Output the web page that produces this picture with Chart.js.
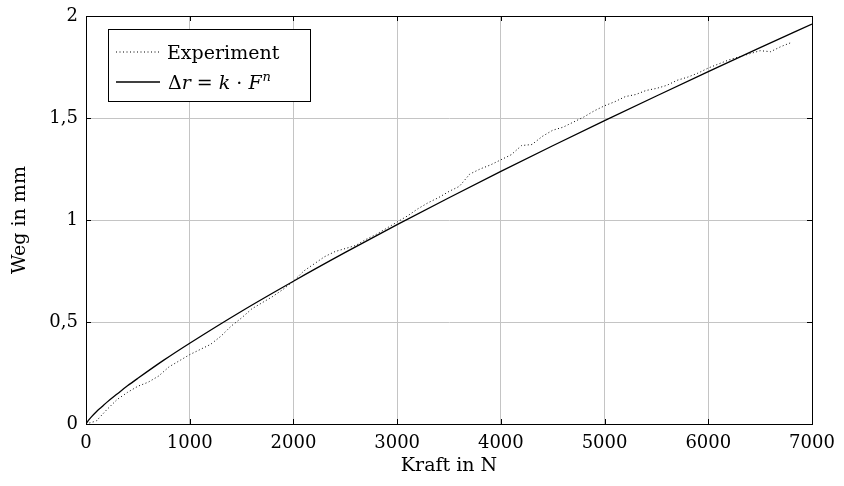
<!DOCTYPE html>
<html>
<head>
<meta charset="utf-8">
<script src="https://cdn.jsdelivr.net/npm/chart.js@4.4.1/dist/chart.umd.min.js"></script>
<style>
  html, body { margin: 0; padding: 0; background: #ffffff; }
  #wrap { width: 844px; height: 486px; }
</style>
</head>
<body>
<div id="wrap"><canvas id="c" width="844" height="486"></canvas></div>
<script>
// ---- data ----
const expForce = [0,100,200,300,400,500,600,700,800,900,1000,1100,1200,1300,1400,1500,1600,1700,1800,1900,2000,2100,2200,2300,2400,2500,2600,2700,2800,2900,3000,3100,3200,3300,3400,3500,3600,3700,3800,3900,4000,4100,4200,4300,4400,4500,4600,4700,4800,4900,5000,5100,5200,5300,5400,5500,5600,5700,5800,5900,6000,6100,6200,6300,6400,6500,6600,6700,6800];
const expDisp  = [0,0.015,0.07,0.12,0.155,0.185,0.205,0.235,0.28,0.31,0.34,0.365,0.39,0.43,0.48,0.52,0.565,0.595,0.625,0.66,0.70,0.75,0.785,0.82,0.845,0.86,0.875,0.905,0.93,0.96,0.99,1.02,1.055,1.085,1.11,1.14,1.165,1.225,1.25,1.27,1.295,1.32,1.365,1.37,1.41,1.44,1.455,1.48,1.505,1.535,1.56,1.58,1.605,1.615,1.635,1.645,1.66,1.685,1.70,1.72,1.745,1.765,1.785,1.80,1.815,1.83,1.825,1.85,1.87];
const fitForce = [0,25,50,100,150,200,300,400,500,750,1000,1500,2000,2500,3000,3500,4000,4500,5000,5500,6000,6500,7000];
const fitDisp  = [0,0.019,0.034,0.060,0.083,0.106,0.147,0.187,0.224,0.313,0.396,0.553,0.700,0.841,0.977,1.109,1.238,1.364,1.487,1.608,1.727,1.845,1.960];
const xTicks = [0,1000,2000,3000,4000,5000,6000,7000];
const yTicks = [0,0.5,1,1.5,2];
const seriesLabels = ["Experiment", "Δr = k · Fⁿ"];
const xTitle = "Kraft in N";
const yTitle = "Weg in mm";

const FONT = "'DejaVu Serif', 'Liberation Serif', serif";

function pts(xs, ys) { return xs.map((x, i) => ({x: x, y: ys[i]})); }

// inner ticks on all four sides + top/right frame
const framePlugin = {
  id: 'frame',
  afterDraw(chart) {
    const {ctx, chartArea: a, scales} = chart;
    ctx.save();
    ctx.strokeStyle = '#000';
    ctx.lineWidth = 1;
    const L = 5;
    ctx.beginPath();
    xTicks.forEach(v => {
      const px = Math.round(scales.x.getPixelForValue(v)) + 0.5;
      ctx.moveTo(px, a.bottom); ctx.lineTo(px, a.bottom - L);
      ctx.moveTo(px, a.top); ctx.lineTo(px, a.top + L);
    });
    yTicks.forEach(v => {
      const py = Math.round(scales.y.getPixelForValue(v)) + 0.5;
      ctx.moveTo(a.left, py); ctx.lineTo(a.left + L, py);
      ctx.moveTo(a.right, py); ctx.lineTo(a.right - L, py);
    });
    ctx.stroke();
    ctx.strokeRect(Math.round(a.left) + 0.5, Math.round(a.top) + 0.5,
                   Math.round(a.right - a.left), Math.round(a.bottom - a.top));
    ctx.restore();
  }
};

// legend box drawn in the upper-left corner
const legendPlugin = {
  id: 'boxLegend',
  afterDraw(chart) {
    const ctx = chart.ctx;
    const ds = chart.data.datasets;
    const bx = 108.5, by = 29.5, bw = 202, bh = 72;
    ctx.save();
    ctx.fillStyle = '#fff';
    ctx.fillRect(bx, by, bw, bh);
    ctx.strokeStyle = '#000';
    ctx.lineWidth = 1;
    ctx.strokeRect(bx, by, bw, bh);
    const rows = [52, 82];
    ds.forEach((d, i) => {
      const y = rows[i];
      ctx.beginPath();
      ctx.setLineDash(d.borderDash || []);
      ctx.lineWidth = d.borderWidth;
      ctx.strokeStyle = d.borderColor;
      ctx.moveTo(116, y); ctx.lineTo(160, y);
      ctx.stroke();
      ctx.setLineDash([]);
    });
    ctx.fillStyle = '#000';
    ctx.textBaseline = 'alphabetic';
    ctx.font = "19px " + FONT;
    ctx.fillText(ds[0].label, 167, rows[0] + 7);
    // formula: Δr = k · F^n with italic variables and superscript
    const segs = [
      ["Δ", "19px", 0], ["r", "italic 19px", 0], [" = ", "19px", 0],
      ["k", "italic 19px", 0], [" · ", "19px", 0], ["F", "italic 19px", 0],
      ["n", "italic 13px", -8]
    ];
    let x = 168;
    segs.forEach(s => {
      ctx.font = s[1] + " " + FONT;
      ctx.fillText(s[0], x, rows[1] + 7 + s[2]);
      x += ctx.measureText(s[0]).width + (s[0] === "F" ? 1 : 0);
    });
    ctx.restore();
  }
};

new Chart(document.getElementById('c'), {
  type: 'line',
  data: {
    datasets: [
      {
        label: seriesLabels[0],
        data: pts(expForce, expDisp),
        borderColor: '#000',
        borderWidth: 1,
        borderDash: [1, 2.5],
        pointRadius: 0,
        fill: false,
        tension: 0
      },
      {
        label: seriesLabels[1],
        data: pts(fitForce, fitDisp),
        borderColor: '#000',
        borderWidth: 1.3,
        pointRadius: 0,
        fill: false,
        cubicInterpolationMode: 'monotone'
      }
    ]
  },
  options: {
    responsive: false,
    animation: false,
    devicePixelRatio: 1,
    layout: { padding: { left: 0, right: 32, top: 16, bottom: 0 } },
    plugins: {
      legend: { display: false },
      tooltip: { enabled: false }
    },
    scales: {
      x: {
        type: 'linear',
        min: 0, max: 7000,
        afterBuildTicks(s) { s.ticks = xTicks.map(v => ({value: v})); },
        afterFit(s) { s.height = 62; s.paddingLeft = 0; s.paddingRight = 0; },
        ticks: {
          color: '#000',
          font: { family: FONT, size: 18 },
          padding: 9,
          maxRotation: 0,
          callback: v => String(v)
        },
        grid: { color: '#c4c4c4', lineWidth: 1, drawTicks: false },
        border: { display: true, color: '#000', width: 1 },
        title: {
          display: true, text: xTitle, color: '#000',
          font: { family: FONT, size: 19 },
          padding: { top: 0, bottom: 9 }
        }
      },
      y: {
        type: 'linear',
        min: 0, max: 2,
        afterBuildTicks(s) { s.ticks = yTicks.map(v => ({value: v})); },
        afterFit(s) { s.width = 86; s.paddingTop = 0; s.paddingBottom = 0; },
        ticks: {
          color: '#000',
          font: { family: FONT, size: 18 },
          padding: 8,
          callback: v => String(v).replace('.', ',')
        },
        grid: { color: '#c4c4c4', lineWidth: 1, drawTicks: false },
        border: { display: true, color: '#000', width: 1 },
        title: {
          display: true, text: yTitle, color: '#000',
          font: { family: FONT, size: 19 },
          padding: { top: 9, bottom: 0 }
        }
      }
    }
  },
  plugins: [framePlugin, legendPlugin]
});
</script>
</body>
</html>
